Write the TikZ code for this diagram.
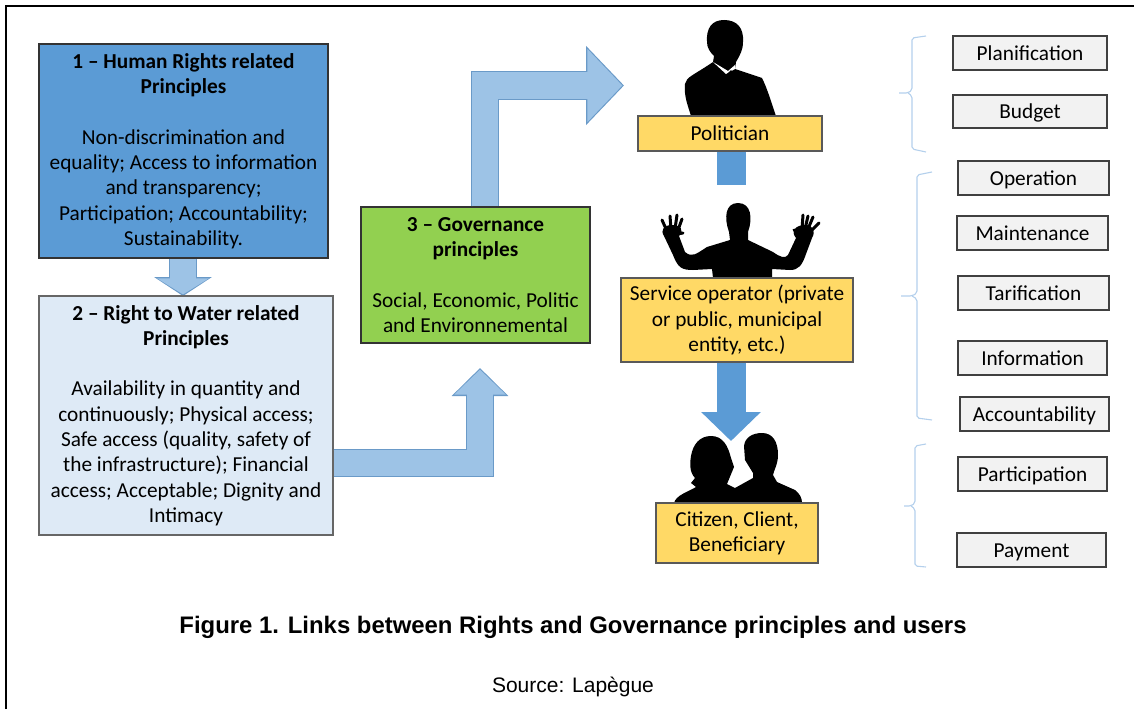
\documentclass[tikz,border=0pt]{standalone}
\usepackage{fontspec}
\setmainfont{Carlito}
\newfontfamily\captionfont{Liberation Sans}
\usetikzlibrary{arrows.meta}
\definecolor{darkblue}{HTML}{5B9BD5}
\definecolor{paleblue}{HTML}{DEEAF6}
\definecolor{lightblue}{HTML}{9DC3E6}
\definecolor{arrowedge}{HTML}{6A9AC8}
\definecolor{bracecol}{HTML}{B4D0EC}
\definecolor{leafgreen}{HTML}{92D050}
\definecolor{actoryellow}{HTML}{FFD966}
\definecolor{taskgrey}{HTML}{F2F2F2}
\tikzset{
 box/.style={draw=black!80,line width=1.1pt,inner sep=0pt,align=center,font=\fontsize{21.3}{25.3}\selectfont},
 humanbox/.style={box,fill=darkblue},
 waterbox/.style={box,fill=paleblue,draw=black!60},
 govbox/.style={box,fill=leafgreen},
 actorbox/.style={box,fill=actoryellow,draw=black!65},
 taskbox/.style={box,fill=taskgrey,draw=black!75,text height=19pt,text depth=5pt},
 brace/.style={draw=bracecol,line width=1.1pt,rounded corners=2pt},
 finger/.style={draw=black,line width=3pt,line cap=round},
 lightarrow/.style n args={4}{line width=26.5pt,draw=lightblue,shorten >=1.6pt,
  -{Triangle[length=#3,width=#4,color=lightblue]},
  preaction={draw=arrowedge,line width=28.5pt,shorten >=0pt,-{Triangle[length=#1,width=#2,color=arrowedge]}}},
 darkarrow/.style n args={2}{line width=29pt,draw=darkblue,-{Triangle[length=#1,width=#2,color=darkblue]}}
}
\begin{document}
\begin{tikzpicture}[x=1pt,y=-1pt]
\useasboundingbox (0,0) rectangle (1134,709);
\draw[line width=2pt] (6,709) -- (6,6) -- (1134,6);

\fill (691,116) .. controls (687,103) and (684,96) .. (685,84) .. controls (686,77) and (694,75) .. (713,62) -- (714,56) .. controls (710,52) and (707,48) .. (707,42) .. controls (706,28) and (712,20) .. (724,20) .. controls (737,20) and (744,28) .. (743,42) .. controls (743,50) and (740,55) .. (736,62) -- (735,69) -- (762,78) .. controls (768,90) and (772,105) .. (776,116) -- cycle;
\fill[white] (713,62) -- (726,74) -- (735,69) -- (735,65) -- (728,71) -- cycle;
\fill (726,75) -- (731,70) -- (736,76) -- (738,86) -- (732,80) -- cycle;

\fill (713,278) -- (712,269) -- (693,270) .. controls (682,270) and (678,268) .. (673,255) -- (664,236) .. controls (660,230) and (664,225) .. (672,225) .. controls (680,225) and (685,230) .. (679,236) -- (685,252) .. controls (692,258) and (696,254) .. (707,247) -- (730,240) -- (729,232) .. controls (724,218) and (725,203) .. (738,203) .. controls (751,203) and (753,218) .. (748,232) -- (748,240) -- (773,252) .. controls (780,257) and (785,259) .. (788,255) -- (796,238) .. controls (790,231) and (796,225) .. (805,225) .. controls (813,225) and (816,231) .. (812,238) -- (806,254) .. controls (802,266) and (798,270) .. (790,270) -- (772,269) -- (772,278) -- cycle;
\draw[finger] (667,231) -- (662,220);
\draw[finger] (671,229) -- (670,216);
\draw[finger] (675,229) -- (677,215);
\draw[finger] (678,230) -- (682,219);
\draw[finger] (677,234) -- (683,233);
\draw[finger] (811,231) -- (819,223);
\draw[finger] (808,229) -- (813,217);
\draw[finger] (805,229) -- (808,216);
\draw[finger] (802,229) -- (803,215);
\draw[finger] (799,233) -- (794,230);

\fill (674,503) .. controls (676,495) and (688,492) .. (696,487) -- (691,483) -- (695,478) .. controls (689,472) and (690,462) .. (691,456) .. controls (693,444) and (700,436) .. (711,436) .. controls (723,436) and (728,446) .. (731,458) -- (734,467) -- (727,484) -- (735,488) -- (753,478) -- (753,473) -- (745,460) -- (744,446) .. controls (745,437) and (753,433) .. (762,433) .. controls (773,433) and (778,442) .. (778,455) .. controls (778,464) and (774,470) .. (773,475) -- (777,482) -- (795,490) .. controls (800,494) and (802,498) .. (802,503) -- cycle;

\draw[lightarrow={19pt}{57pt}{16pt}{51pt}] (183,258) -- (183,296);
\coordinate (govtip) at (480,368);
\coordinate (polhead) at (624,85.5);
\coordinate (opstop) at (731,185);
\coordinate (citizentip) at (731,441);

\draw (183.5,151) node[humanbox,minimum width=289pt,minimum height=214pt] (human) {\textbf{1 – Human Rights related}\\\textbf{Principles}\\[25.3pt]Non-discrimination and\\equality; Access to information\\and transparency;\\Participation; Accountability;\\Sustainability.};
\draw (186,415.5) node[waterbox,minimum width=294pt,minimum height=239pt] (water) {\textbf{2 – Right to Water related}\\\textbf{Principles}\\[25.3pt]Availability in quantity and\\continuously; Physical access;\\Safe access (quality, safety of\\the infrastructure); Financial\\access; Acceptable; Dignity and\\Intimacy};
\draw (475.5,275) node[govbox,minimum width=229pt,minimum height=136pt] (gov) {\textbf{3 – Governance}\\\textbf{principles}\\[25.3pt]Social, Economic, Politic\\and Environnemental};
\draw (730,133.5) node[actorbox,minimum width=184pt,minimum height=35pt,text height=19pt,text depth=5pt] (politician) {Politician};
\draw (737,320) node[actorbox,minimum width=232pt,minimum height=84pt] (operator) {Service operator (private\\or public, municipal\\entity, etc.)};
\draw (737,533) node[actorbox,minimum width=162pt,minimum height=60pt] (citizen) {Citizen, Client,\\Beneficiary};

\draw[lightarrow={38pt}{77pt}{35pt}{71pt}] ([xshift=9.5pt]gov.north) |- (polhead);
\draw[lightarrow={28pt}{55pt}{25pt}{50pt}] ([yshift=-47.5pt]water.east) -| (govtip);
\draw[line width=29pt,draw=darkblue] ([xshift=1pt]politician.south) -- (opstop);
\draw[darkarrow={29pt}{58pt}] ([xshift=-6pt]operator.south) -- (citizentip);

\draw (1030,53) node[taskbox,minimum width=154pt,minimum height=34pt] (plan) {Planification};
\draw (1030,111.5) node[taskbox,minimum width=154pt,minimum height=33pt] (budget) {Budget};
\draw (1033.5,178) node[taskbox,minimum width=151pt,minimum height=34pt] (operation) {Operation};
\draw (1032.5,233) node[taskbox,minimum width=151pt,minimum height=34pt] (maint) {Maintenance};
\draw (1033.5,293) node[taskbox,minimum width=151pt,minimum height=34pt] (tarif) {Tarification};
\draw (1032.5,358) node[taskbox,minimum width=149pt,minimum height=34pt] (info) {Information};
\draw (1034.5,414) node[taskbox,minimum width=149pt,minimum height=34pt] (account) {Accountability};
\draw (1032.5,474) node[taskbox,minimum width=149pt,minimum height=34pt] (partic) {Participation};
\draw (1031.5,550) node[taskbox,minimum width=149pt,minimum height=34pt] (payment) {Payment};

\draw[brace] (926,36) -- (912,38) -- (912,90) -- (908,93) -- (899,93);
\draw[brace] (908,93) -- (912,96) -- (912,149) -- (926,152);
\draw[brace] (932,172) -- (917,175) -- (917,293) -- (912,296) -- (901,296);
\draw[brace] (912,296) -- (917,299) -- (917,418) -- (932,420);
\draw[brace] (926,444) -- (915,446) -- (915,503) -- (911,506) -- (904,506);
\draw[brace] (911,506) -- (915,509) -- (915,566) -- (926,567);

\draw (573,627) node[inner sep=0pt] (figcap) {\captionfont\bfseries\fontsize{23.9}{27}\selectfont Figure 1. Links between Rights and Governance principles and users};
\draw (573,687) node[inner sep=0pt] (source) {\captionfont\fontsize{21}{24}\selectfont Source: Lapègue};
\end{tikzpicture}
\end{document}
